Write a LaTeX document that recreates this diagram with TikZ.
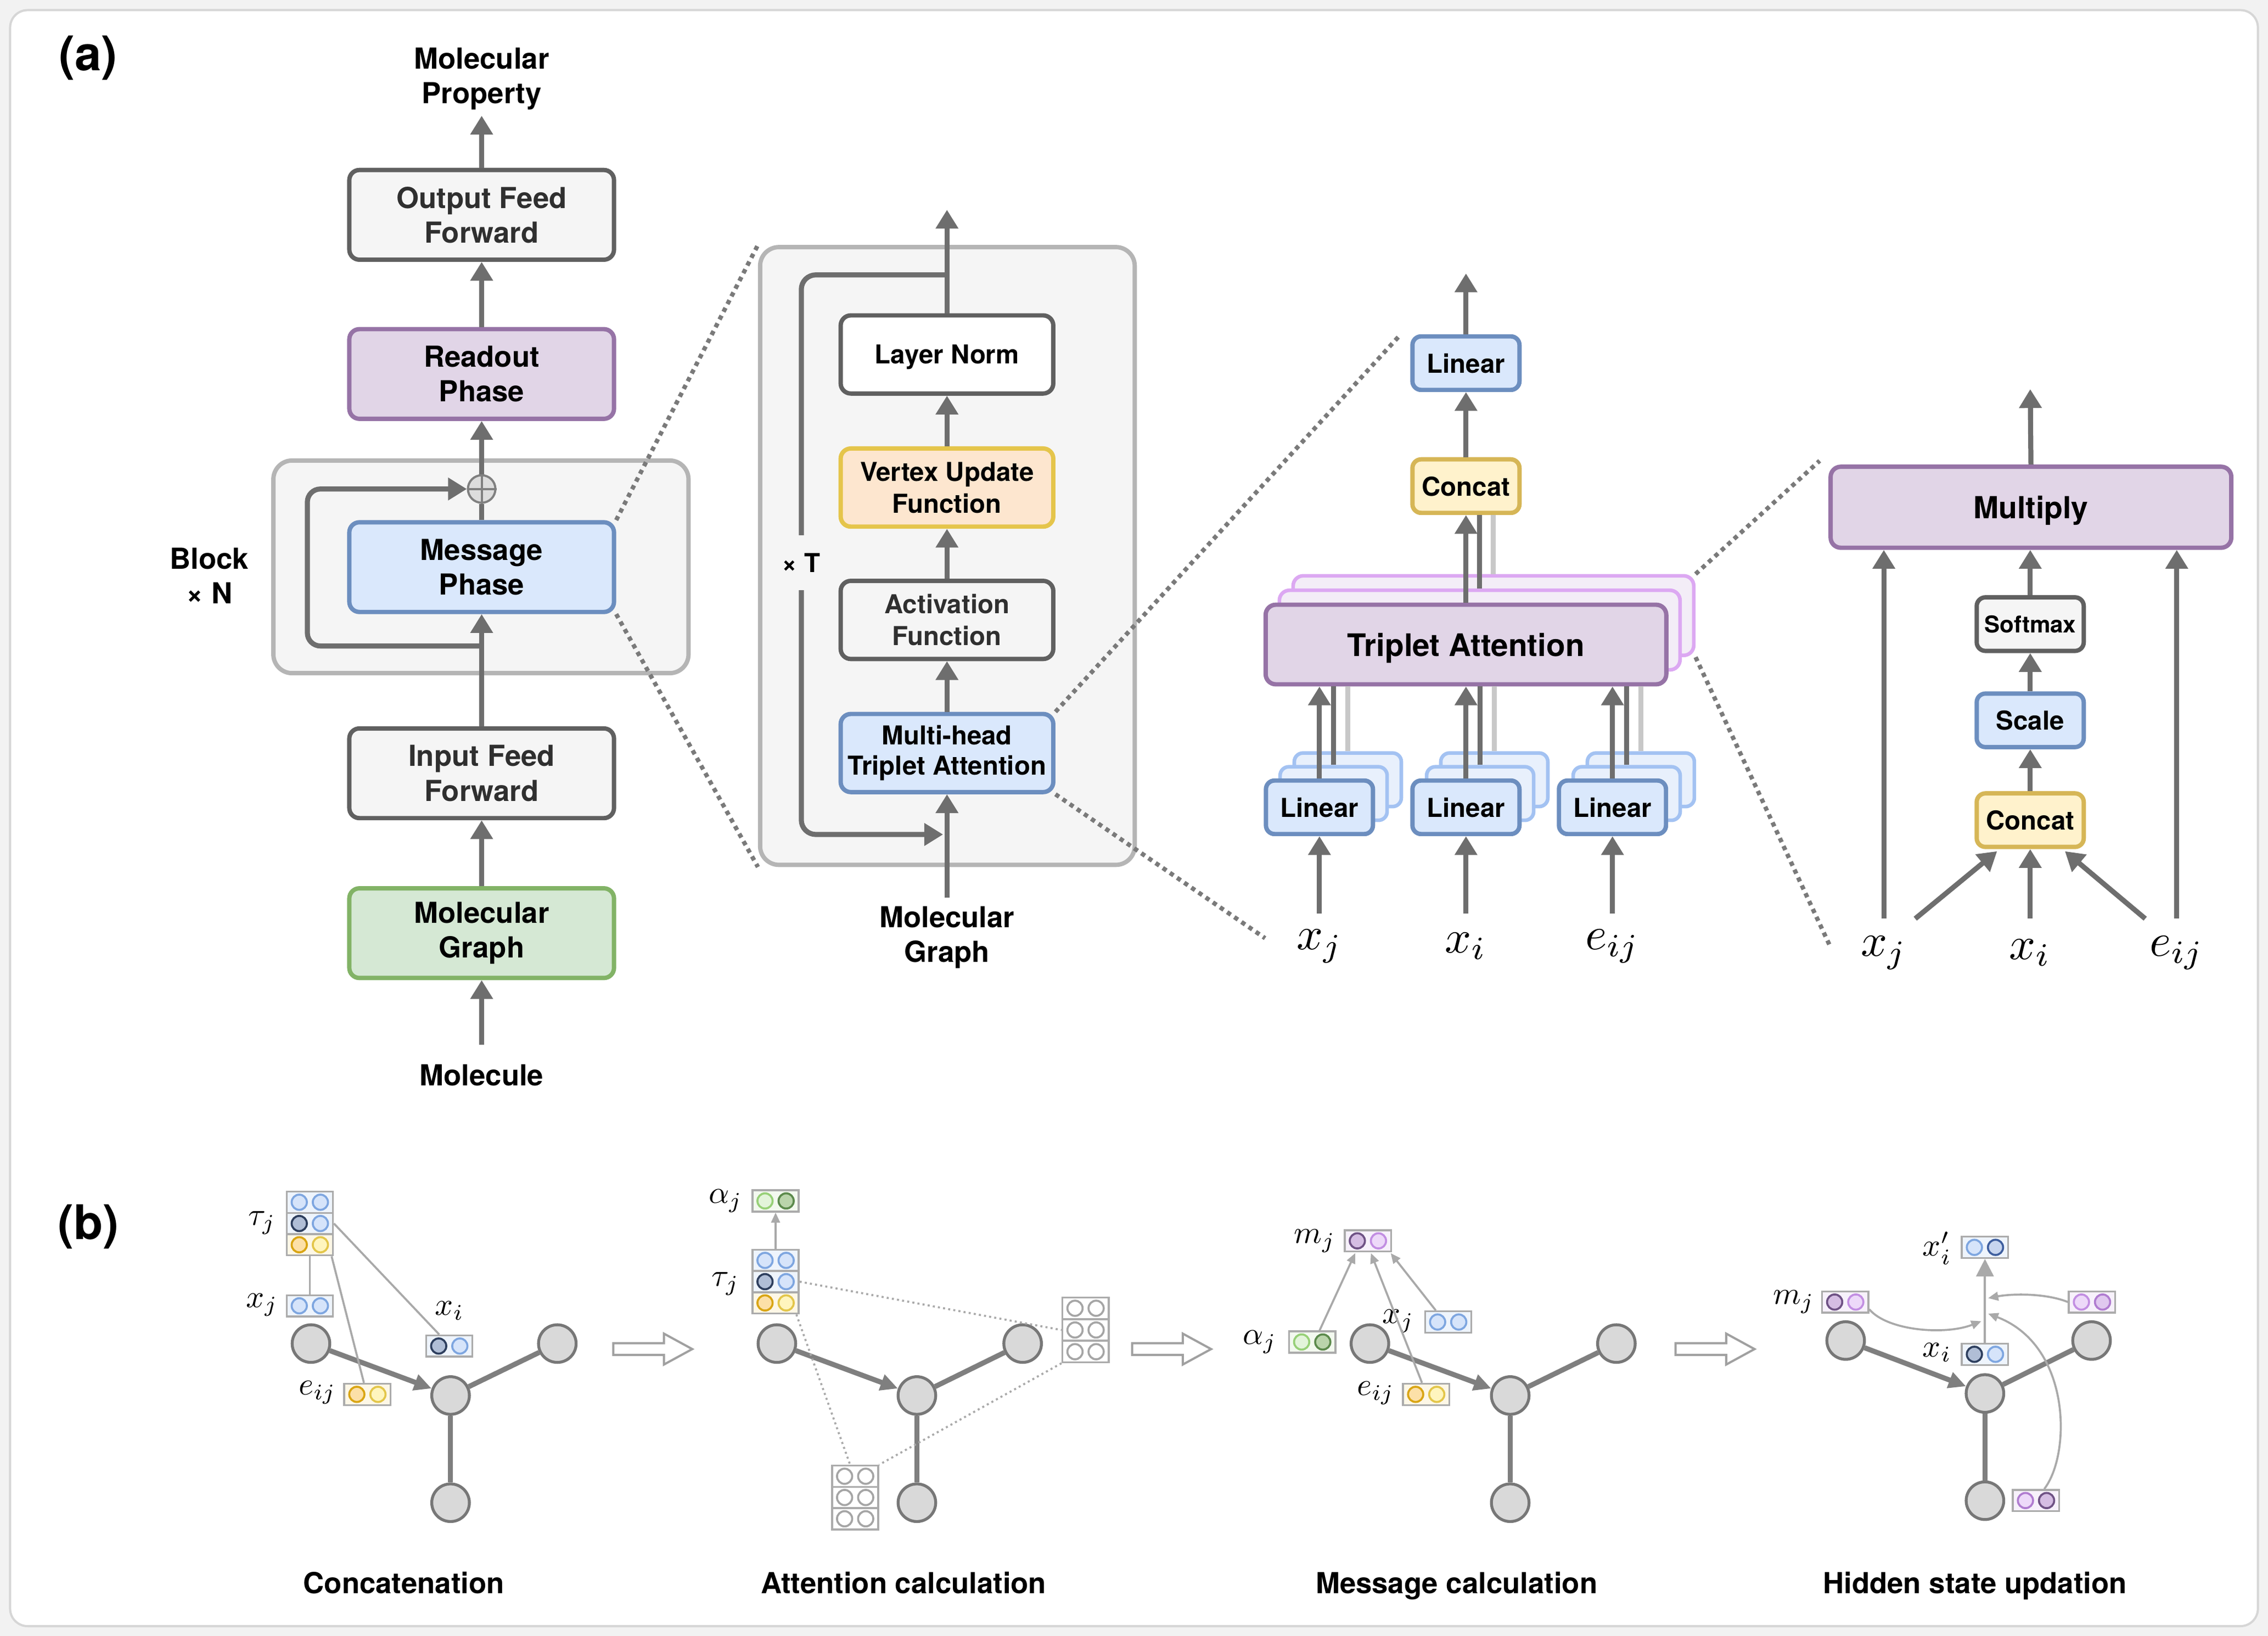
\documentclass[tikz,border=0pt]{standalone}
\usepackage{fontspec}
\setmainfont{TeX Gyre Heros}
\usetikzlibrary{arrows.meta,calc}

\definecolor{arr}{HTML}{6E6E6E}
\definecolor{gbor}{HTML}{606060}
\definecolor{gfill}{HTML}{F5F5F5}
\definecolor{gtext}{HTML}{2F2F2F}
\definecolor{bfill}{HTML}{DAE8FC}
\definecolor{bbor}{HTML}{6C8EBF}
\definecolor{pfill}{HTML}{E1D5E7}
\definecolor{pbor}{HTML}{9673A6}
\definecolor{grfill}{HTML}{D5E8D4}
\definecolor{grbor}{HTML}{82B366}
\definecolor{yfill}{HTML}{FFF2CC}
\definecolor{ybor}{HTML}{D6B656}
\definecolor{ofill}{HTML}{FDE6CF}
\definecolor{obor}{HTML}{E5C54B}
\definecolor{cfill}{HTML}{F5F5F5}
\definecolor{cbor}{HTML}{B5B5B5}
\definecolor{tafill}{HTML}{F3EDF7}
\definecolor{tabor}{HTML}{DCA8F2}
\definecolor{lcfill}{HTML}{E8F0FC}
\definecolor{lcbor}{HTML}{A3C2F2}
\definecolor{lgline}{HTML}{C8C8C8}
\definecolor{dotc}{HTML}{7A7A7A}
\definecolor{plusf}{HTML}{DDDDDD}
\definecolor{plusb}{HTML}{808080}
\definecolor{bgc}{HTML}{F2F2F2}
\definecolor{framec}{HTML}{D6D6D6}
\definecolor{gnfill}{HTML}{D9D9D9}
\definecolor{gnbor}{HTML}{777777}
\definecolor{gedc}{HTML}{7F7F7F}
\definecolor{cellbor}{HTML}{ABABAB}
\definecolor{thinc}{HTML}{A9A9A9}
\definecolor{hollc}{HTML}{A0A0A0}
\definecolor{cbl}{HTML}{EEF4FC}
\definecolor{cye}{HTML}{FDF7E6}
\definecolor{cgr}{HTML}{F3F9EF}
\definecolor{cpu}{HTML}{F7F1FB}
\definecolor{cwh}{HTML}{FFFFFF}
\definecolor{lbF}{HTML}{D6E4FA}
\definecolor{lbD}{HTML}{7EA6E0}
\definecolor{nvF}{HTML}{B0BED6}
\definecolor{nvD}{HTML}{2E3F5E}
\definecolor{yoF}{HTML}{FCE0A8}
\definecolor{yoD}{HTML}{D9A514}
\definecolor{ylF}{HTML}{FFF5BE}
\definecolor{ylD}{HTML}{E3C64A}
\definecolor{lgF}{HTML}{E3F4DA}
\definecolor{lgD}{HTML}{97D077}
\definecolor{dgF}{HTML}{BAD4AB}
\definecolor{dgD}{HTML}{5C8A4C}
\definecolor{pdF}{HTML}{D5BDE3}
\definecolor{pdD}{HTML}{6F5285}
\definecolor{plF}{HTML}{EDD9F9}
\definecolor{plD}{HTML}{C28EE2}
\definecolor{pmF}{HTML}{E0C8EF}
\definecolor{pmD}{HTML}{B07CD0}
\definecolor{gwF}{HTML}{FFFFFF}
\definecolor{gwD}{HTML}{A5A5A5}
\definecolor{nbF}{HTML}{C7D5EF}
\definecolor{nbD}{HTML}{3F5F9F}

\tikzset{
  box/.style={rounded corners=7pt, line width=3pt, align=center, inner sep=0pt,
    font=\fontsize{20}{24}\selectfont\bfseries},
  oneline/.style={text depth=0pt},
  gbox/.style={fill=gfill, draw=gbor, text=gtext},
  bbox/.style={fill=bfill, draw=bbor},
  pbox/.style={fill=pfill, draw=pbor},
  grbox/.style={fill=grfill, draw=grbor},
  ybox/.style={fill=yfill, draw=ybor},
  obox/.style={fill=ofill, draw=obor},
  wbox/.style={fill=white, draw=gbor},
  tacopy/.style={fill=tafill, draw=tabor, line width=2.5pt},
  lcopy/.style={fill=lcfill, draw=lcbor, line width=2.5pt},
  colbox/.style={minimum width=183pt, minimum height=62pt},
  midbox/.style={font=\fontsize{18}{22}\selectfont\bfseries, minimum width=147pt, minimum height=54pt},
  smallbox/.style={font=\fontsize{18}{22}\selectfont\bfseries, minimum width=74pt, minimum height=37pt, rounded corners=6pt, text depth=0pt},
  cont/.style={fill=cfill, draw=cbor, line width=3pt, rounded corners=13pt, inner sep=0pt},
  arw/.style={draw=arr, line width=3.5pt, -{Triangle[width=15pt,length=13pt]}},
  ln/.style={draw=arr, line width=3.5pt},
  dotl/.style={draw=dotc, line width=3pt, dash pattern=on 3pt off 3pt},
  lab/.style={font=\fontsize{20}{24}\selectfont\bfseries, align=center, inner sep=0pt},
  bigm/.style={font=\fontsize{10}{12}\selectfont, inner sep=0pt, scale=3.2},
  smm/.style={font=\fontsize{10}{12}\selectfont, inner sep=0pt, scale=2.2},
  gn/.style={circle, fill=gnfill, draw=gnbor, line width=2pt, minimum size=26pt, inner sep=0pt},
  ge/.style={draw=gedc, line width=3.5pt},
  gea/.style={ge, -{Triangle[width=11pt,length=12pt]}},
  cell/.style={draw=cellbor, line width=1.3pt, minimum width=32pt, minimum height=14.7pt, inner sep=0pt},
  vdot/.style={circle, line width=1.4pt, minimum size=10.5pt, inner sep=0pt},
  tline/.style={draw=thinc, line width=1.4pt},
  tlinea/.style={tline, -{Triangle[width=6pt,length=7pt]}},
  dott/.style={draw=thinc, line width=1.4pt, dash pattern=on 1.4pt off 2.2pt},
  hollow/.style={draw=hollc, fill=white, line width=1.5pt, line join=miter},
}

\newcommand\vcell[8]{%
  \node[cell, fill=#4] (#1) at (#2,#3) {};
  \node[vdot, fill=#5, draw=#6] (#1a) at ($(#1.center)+(-7.3,0)$) {};
  \node[vdot, fill=#7, draw=#8] (#1b) at ($(#1.center)+(7.3,0)$) {};}
\newcommand\harrow[2]{%
  \draw[hollow] (#1,#2-4.1) -- (#1+35,#2-4.1) -- (#1+35,#2-10.7) -- (#1+54.6,#2)
    -- (#1+35,#2+10.7) -- (#1+35,#2+4.1) -- (#1,#2+4.1) -- cycle;}

\begin{document}
\begin{tikzpicture}[x=1pt,y=-1pt]
\useasboundingbox (0,0) rectangle (1568,1130.8);
\fill[bgc] (0,0) rectangle (1568,1130.8);
\draw[framec, fill=white, line width=1.5pt, rounded corners=12pt] (7,7) rectangle (1561,1124);

% ---------- containers
\node[cont, minimum width=287pt, minimum height=147pt] (blkA) at (332.5,391.8) {};
\node[cont, minimum width=259pt, minimum height=427pt] (blkB) at (655,384.3) {};

% ---------- panel labels
\node[font=\fontsize{33}{36}\selectfont\bfseries, inner sep=0pt] (la) at (61,40) {(a)};
\node[font=\fontsize{33}{36}\selectfont\bfseries, inner sep=0pt] (lb) at (61,848) {(b)};

% ---------- left column
\node[lab] (prop) at (333,54.5) {Molecular\\Property};
\node[box,gbox,colbox] (off) at (333,148.5) {Output Feed\\Forward};
\node[box,pbox,colbox] (ro) at (333,258.5) {Readout\\Phase};
\node[box,bbox,colbox] (msg) at (333,392) {Message\\Phase};
\node[box,gbox,colbox] (iff) at (333,534.5) {Input Feed\\Forward};
\node[box,grbox,colbox] (mg) at (333,645) {Molecular\\Graph};
\node[lab,oneline] (mol) at (333,743) {Molecule};
\node[lab] (blk) at (144.7,398) {Block\\× N};

\coordinate (propin) at (333,80);
\coordinate (molin) at (333,722);
\coordinate (br) at (333,446.5);
\draw[arw] (molin) -- (mg.south);
\draw[arw] (mg.north) -- (iff.south);
\draw[arw] (iff.north) -- (msg.south);
\node[circle, fill=plusf, draw=plusb, line width=1.5pt, minimum size=19pt, inner sep=0pt] (plus) at (333,338) {};
\draw[plusb, line width=1.5pt] (plus.north) -- (plus.south) (plus.west) -- (plus.east);
\draw[ln] (msg.north) -- (plus.south);
\draw[arw, rounded corners=9pt] (br) -| (212.5,338) -- (plus.west);
\draw[arw] (plus.north) -- (ro.south);
\draw[arw] (ro.north) -- (off.south);
\draw[arw] (off.north) -- (propin);

% ---------- middle block
\node[box,wbox,midbox,oneline] (lnorm) at (654.7,245) {Layer Norm};
\node[box,obox,midbox] (vuf) at (654.7,337) {Vertex Update\\Function};
\node[box,gbox,midbox] (af) at (654.7,428.5) {Activation\\Function};
\node[box,bbox,midbox,font=\fontsize{18}{21}\selectfont\bfseries] (mta) at (654.7,520.5) {Multi-head\\Triplet Attention};
\node[lab] (mg2) at (654.7,648) {Molecular\\Graph};
\coordinate (mgin) at (654.7,620.6);
\coordinate (mout) at (654.7,145);
\coordinate (lt) at (654.7,190);
\coordinate (lbk) at (652,576.8);
\draw[arw, rounded corners=10pt] (lt) -| (554,576.8) -- (lbk);
\draw[arw] (mgin) -- (mta.south);
\draw[arw] (mta.north) -- (af.south);
\draw[arw] (af.north) -- (vuf.south);
\draw[arw] (vuf.north) -- (lnorm.south);
\draw[arw] (lnorm.north) -- (mout);
\node[fill=cfill, inner sep=3pt, minimum height=38pt, font=\fontsize{18}{22}\selectfont\bfseries] (xT) at (554,389) {× T};

% ---------- triplet attention panel
\node[box,tacopy,minimum width=277pt,minimum height=55pt] (ta3) at (1032.5,425.5) {};
\node[box,tacopy,minimum width=277pt,minimum height=55pt] (ta2) at (1023,435.5) {};
\node[box,pbox,oneline,minimum width=277pt,minimum height=55pt,font=\fontsize{21.5}{24}\selectfont\bfseries] (ta) at (1013.5,445.5) {Triplet Attention};
\node[box,ybox,smallbox] (cc1) at (1013.5,336) {Concat};
\node[box,bbox,smallbox] (lt1) at (1013.5,251) {Linear};
\coordinate (tout) at (1013.5,189);
\draw[arw] (lt1.north) -- (tout);
\draw[arw] (cc1.north) -- (lt1.south);
\draw[ln] (ta2.north) -- (ta2.north |- cc1.south);
\draw[ln, draw=lgline] (ta3.north) -- (ta3.north |- cc1.south);
\draw[arw] (ta.north) -- (cc1.south);

\foreach \cx/\nm/\lbl in {912.2/la1/x_j, 1013.5/la2/x_i, 1114.8/la3/e_{ij}}{
  \node[box,lcopy,smallbox] (\nm c) at (\cx+19.6,539) {};
  \node[box,lcopy,smallbox] (\nm b) at (\cx+9.8,548.5) {};
  \node[box,bbox,smallbox] (\nm) at (\cx,558) {Linear};
  \draw[ln] (\nm b.north) -- (\nm b.north |- ta.south);
  \draw[ln, draw=lgline] (\nm c.north) -- (\nm c.north |- ta.south);
  \draw[arw] (\nm.north) -- (\nm.north |- ta.south);
  \node[bigm] (\nm in) at (\cx,654) {$\lbl$};
  \coordinate (\nm src) at (\cx,631.5);
  \draw[arw] (\nm src) -- (\nm.south);
}

% ---------- multiply panel
\node[box,pbox,oneline,minimum width=277pt,minimum height=56pt,font=\fontsize{21}{24}\selectfont\bfseries] (mul) at (1404.1,350.6) {Multiply};
\node[box,gbox,smallbox,font=\fontsize{16}{20}\selectfont\bfseries,text=black] (smx) at (1403.6,431.4) {Softmax};
\node[box,bbox,smallbox] (scl) at (1403.6,497.9) {Scale};
\node[box,ybox,smallbox] (cc2) at (1403.6,566.9) {Concat};
\coordinate (mout2) at (1403.6,269);
\draw[arw] (mul.north) -- (mout2);
\draw[arw] (smx.north) -- (smx.north |- mul.south);
\draw[arw] (scl.north) -- (smx.south);
\draw[arw] (cc2.north) -- (scl.south);
\node[bigm] (mxj) at (1302.4,658.5) {$x_j$};
\node[bigm] (mxi) at (1403.6,658.5) {$x_i$};
\node[bigm] (meij) at (1504.9,658.5) {$e_{ij}$};
\coordinate (xj2a) at (1302.4,635);
\coordinate (xj2b) at (1324.1,635);
\coordinate (xi2a) at (1403.6,635);
\coordinate (e2b) at (1483.1,635);
\coordinate (e2a) at (1504.9,635);
\coordinate (cc2l) at ($(cc2.south)+(-22.9,1.5)$);
\coordinate (cc2r) at ($(cc2.south)+(24,1.5)$);
\draw[arw] (xj2a) -- (xj2a |- mul.south);
\draw[arw] (xj2b) -- (cc2l);
\draw[arw] (xi2a) -- (cc2.south);
\draw[arw] (e2b) -- (cc2r);
\draw[arw] (e2a) -- (e2a |- mul.south);

% ---------- dotted zoom lines
\coordinate (z1) at (968.3,231.2);
\coordinate (z2) at (874.6,648.5);
\coordinate (z3) at (1258,318.5);
\coordinate (z4) at (1265.4,654.4);
\draw[dotl] (msg.north east) -- (blkB.north west);
\draw[dotl] (msg.south east) -- (blkB.south west);
\draw[dotl] (mta.north east) -- (z1);
\draw[dotl] (mta.south east) -- (z2);
\draw[dotl] (ta3.north east) -- (z3);
\draw[dotl] (ta3.south east) -- (z4);

% ---------- (b) panel 1: Concatenation
\node[gn] (a1) at (215,928.7) {};
\node[gn] (c1) at (311.5,964.6) {};
\node[gn] (r1) at (385.3,928.7) {};
\node[gn] (b1) at (311.5,1038.7) {};
\draw[gea] (a1) -- (c1);
\draw[ge] (c1) -- (r1);
\draw[ge] (c1) -- (b1);
\vcell{t1a}{214.2}{831}{cbl}{lbF}{lbD}{lbF}{lbD}
\vcell{t1b}{214.2}{845.7}{cbl}{nvF}{nvD}{lbF}{lbD}
\vcell{t1c}{214.2}{860.4}{cye}{yoF}{yoD}{ylF}{ylD}
\node[smm] (tau1) at (181.2,845.3) {$\tau_j$};
\vcell{p1xj}{214.2}{902.6}{cbl}{lbF}{lbD}{lbF}{lbD}
\node[smm] (p1xjl) at (181.2,902) {$x_j$};
\vcell{p1xi}{310.6}{930.4}{cbl}{nvF}{nvD}{lbF}{lbD}
\node[smm] (p1xil) at (310.8,906) {$x_i$};
\vcell{p1e}{254}{963.8}{cye}{yoF}{yoD}{ylF}{ylD}
\node[smm] (p1el) at (219.4,962.5) {$e_{ij}$};
\draw[tline] (t1c.south) -- (p1xj.north);
\draw[tline] ($(t1c.south east)+(-1.6,0)$) -- ($(p1e.north)+(-2.4,0)$);
\draw[tline] (t1b.east) -- ($(p1xi.north west)+(9.7,0)$);
\harrow{424}{932.5}
\node[lab,oneline] (cap1) at (279.2,1094) {Concatenation};

% ---------- (b) panel 2: Attention calculation
\node[gn] (a2) at (537.1,928.7) {};
\node[gn] (c2) at (633.9,964.6) {};
\node[gn] (r2) at (707,928.7) {};
\node[gn] (b2) at (633.9,1038.7) {};
\draw[gea] (a2) -- (c2);
\draw[ge] (c2) -- (r2);
\draw[ge] (c2) -- (b2);
\vcell{p2al}{536.2}{830.1}{cgr}{lgF}{lgD}{dgF}{dgD}
\node[smm] (p2all) at (501.6,830) {$\alpha_j$};
\vcell{t2a}{536.2}{871.2}{cbl}{lbF}{lbD}{lbF}{lbD}
\vcell{t2b}{536.2}{885.9}{cbl}{nvF}{nvD}{lbF}{lbD}
\vcell{t2c}{536.2}{900.6}{cye}{yoF}{yoD}{ylF}{ylD}
\node[smm] (tau2) at (501.6,887.5) {$\tau_j$};
\draw[tlinea] (t2a.north) -- (p2al.south);
\vcell{g1a}{750.5}{904.3}{cwh}{gwF}{gwD}{gwF}{gwD}
\vcell{g1b}{750.5}{919.3}{cwh}{gwF}{gwD}{gwF}{gwD}
\vcell{g1c}{750.5}{934.3}{cwh}{gwF}{gwD}{gwF}{gwD}
\vcell{g2a}{591.2}{1020.4}{cwh}{gwF}{gwD}{gwF}{gwD}
\vcell{g2b}{591.2}{1035.1}{cwh}{gwF}{gwD}{gwF}{gwD}
\vcell{g2c}{591.2}{1049.8}{cwh}{gwF}{gwD}{gwF}{gwD}
\draw[dott] (t2b.east) -- (g1b.west);
\draw[dott] (g1c.south west) -- (g2a.north east);
\draw[dott] ($(t2c.south)+(14.4,0)$) -- ($(g2a.north)+(-3.5,0)$);
\harrow{782.7}{932.5}
\node[lab,oneline] (cap2) at (624.7,1094) {Attention calculation};

% ---------- (b) panel 3: Message calculation
\node[gn] (a3) at (947.1,928.7) {};
\node[gn] (c3) at (1044.1,964.6) {};
\node[gn] (r3) at (1117.5,928.7) {};
\node[gn] (b3) at (1044.1,1038.7) {};
\draw[gea] (a3) -- (c3);
\draw[ge] (c3) -- (r3);
\draw[ge] (c3) -- (b3);
\vcell{p3m}{945.7}{857.7}{cpu}{pdF}{pdD}{plF}{plD}
\node[smm] (p3ml) at (909,857.7) {$m_j$};
\vcell{p3al}{907.2}{927.6}{cgr}{lgF}{lgD}{dgF}{dgD}
\node[smm] (p3all) at (870.9,927.6) {$\alpha_j$};
\vcell{p3xj}{1001.2}{913.8}{cbl}{lbF}{lbD}{lbF}{lbD}
\node[smm] (p3xjl) at (966.7,913.2) {$x_j$};
\vcell{p3e}{986}{963.8}{cye}{yoF}{yoD}{ylF}{ylD}
\node[smm] (p3el) at (951.1,963) {$e_{ij}$};
\draw[tlinea] ($(p3al.north)+(5.1,0)$) -- ($(p3m.south)+(-8.8,0.5)$);
\draw[tlinea] ($(p3e.north)+(-2.9,0)$) -- ($(p3m.south)+(2.1,0.5)$);
\draw[tlinea] ($(p3xj.north west)+(8.1,0)$) -- ($(p3m.south east)+(-0.9,0.5)$);
\harrow{1158.4}{932.5}
\node[lab,oneline] (cap3) at (1007,1094) {Message calculation};

% ---------- (b) panel 4: Hidden state updation
\node[gn] (a4) at (1276,926.6) {};
\node[gn] (c4) at (1372.3,963.2) {};
\node[gn] (r4) at (1446,926.6) {};
\node[gn] (b4) at (1372.3,1037.3) {};
\draw[gea] (a4) -- (c4);
\draw[ge] (c4) -- (r4);
\draw[ge] (c4) -- (b4);
\vcell{p4xp}{1372.3}{862.2}{cbl}{lbF}{lbD}{nbF}{nbD}
\node[smm] (p4xpl) at (1339.2,862.8) {$x'_i$};
\vcell{p4m}{1275.7}{900}{cpu}{pdF}{pdD}{plF}{plD}
\node[smm] (p4ml) at (1240.1,899.8) {$m_j$};
\vcell{p4r}{1446.3}{900}{cpu}{plF}{plD}{pmF}{pmD}
\vcell{p4xi}{1372.3}{936.1}{cbl}{nvF}{nvD}{lbF}{lbD}
\node[smm] (p4xil) at (1339.2,934.8) {$x_i$};
\vcell{p4b}{1407.6}{1037.2}{cpu}{plF}{pmD}{pdF}{pdD}
\coordinate (j1) at (1369.8,913.2);
\coordinate (j2) at (1374.5,897.3);
\coordinate (j3) at (1374.5,908);
\draw[tline, -{Triangle[width=12pt,length=12pt]}] (p4xi.north) -- (p4xp.south);
\draw[tlinea] ($(p4m.east)+(0,5)$) .. controls (1305,920) and (1345,923) .. (j1);
\draw[tlinea] (p4r.west) .. controls (1415,894) and (1392,894) .. (j2);
\draw[tlinea] ($(p4b.north)+(5.7,0)$) .. controls (1432,1005) and (1432,930) .. (j3);
\node[lab,oneline] (cap4) at (1365.4,1094) {Hidden state updation};
\end{tikzpicture}
\end{document}
